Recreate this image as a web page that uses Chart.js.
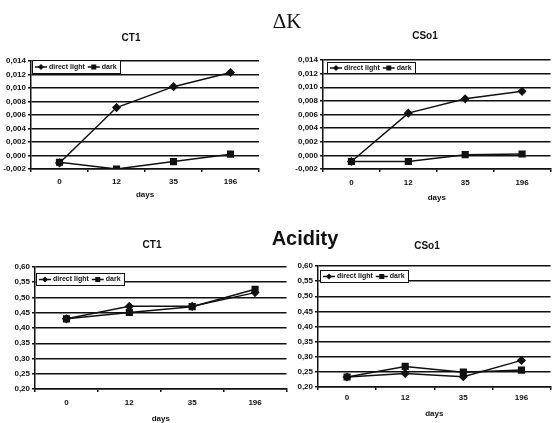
<!DOCTYPE html>
<html>
<head>
<meta charset="utf-8">
<script src="https://cdn.jsdelivr.net/npm/chart.js@4"></script>
<style>
html, body { margin: 0; padding: 0; background: #fff; overflow: hidden; }
body { width: 554px; height: 423px; position: relative; font-family: "Liberation Sans", Arial, sans-serif; }
canvas { position: absolute; }
.lbl { position: absolute; transform: translate(-50%, -50%); white-space: nowrap; line-height: 1; color: #111; z-index: 2; }
.sub { font-size: 10px; font-weight: bold; }
</style>
</head>
<body>
<div class="lbl" style="left:287px;top:21px;font-family:'Liberation Serif',serif;font-size:21px">ΔK</div>
<div class="lbl" style="left:305px;top:238px;font-size:20px;font-weight:bold">Acidity</div>
<div class="lbl sub" style="left:131px;top:38px">CT1</div>
<div class="lbl sub" style="left:425px;top:36px">CSo1</div>
<div class="lbl sub" style="left:152px;top:245px">CT1</div>
<div class="lbl sub" style="left:427px;top:246px">CSo1</div>

<canvas id="dkCT1" width="270" height="192" style="left:0;top:20px"></canvas>
<canvas id="dkCSo1" width="266" height="192" style="left:290px;top:20px"></canvas>
<canvas id="acCT1" width="292" height="200" style="left:0;top:225px"></canvas>
<canvas id="acCSo1" width="266" height="200" style="left:290px;top:225px"></canvas>

<script>
// values
const days = ["0", "12", "35", "196"];
const seriesNames = ["direct light", "dark"];

const dkCT1Light = [-0.0011, 0.0071, 0.0102, 0.0123];
const dkCT1Dark = [-0.0010, -0.0020, -0.0009, 0.0002];
const dkCSo1Light = [-0.0009, 0.0062, 0.0083, 0.0094];
const dkCSo1Dark = [-0.0009, -0.0009, 0.0001, 0.0002];

const acCT1Light = [0.430, 0.471, 0.471, 0.516];
const acCT1Dark = [0.430, 0.451, 0.470, 0.527];
const acCSo1Light = [0.233, 0.245, 0.234, 0.288];
const acCSo1Dark = [0.233, 0.268, 0.249, 0.256];

const dkTicks = [-0.002, 0.000, 0.002, 0.004, 0.006, 0.008, 0.010, 0.012, 0.014];
const acTicks = [0.20, 0.25, 0.30, 0.35, 0.40, 0.45, 0.50, 0.55, 0.60];

const INK = "#111";
const FONT = '"Liberation Sans", Arial, sans-serif';

// small boxed legend inside the plot, like the Excel original
const boxLegend = {
    id: "boxLegend",
    afterDraw(chart, args, opts) {
        const ctx = chart.ctx;
        const area = chart.chartArea;
        const x0 = Math.round(area.left + opts.dx);
        const y0 = Math.round(area.top + opts.dy);
        const h = opts.h;
        ctx.save();
        ctx.font = "bold 7px " + FONT;
        let w = 3;
        chart.data.datasets.forEach(ds => { w += 14 + ctx.measureText(ds.label).width + 3; });
        w = Math.round(w);
        ctx.fillStyle = "#fff";
        ctx.fillRect(x0, y0, w, h);
        ctx.strokeStyle = INK;
        ctx.lineWidth = 1;
        ctx.strokeRect(x0 + 0.5, y0 + 0.5, w, h);

        let x = x0 + 3;
        const cy = y0 + h / 2 + 0.5;
        chart.data.datasets.forEach(ds => {
            ctx.beginPath();
            ctx.moveTo(x, cy);
            ctx.lineTo(x + 12, cy);
            ctx.lineWidth = 1.5;
            ctx.stroke();
            ctx.fillStyle = INK;
            ctx.beginPath();
            if (ds.pointStyle === "rectRot") {
                ctx.moveTo(x + 6, cy - 3);
                ctx.lineTo(x + 9, cy);
                ctx.lineTo(x + 6, cy + 3);
                ctx.lineTo(x + 3, cy);
                ctx.closePath();
            } else {
                ctx.rect(x + 3.5, cy - 2.5, 5, 5);
            }
            ctx.fill();
            ctx.textBaseline = "middle";
            ctx.fillText(ds.label, x + 14, cy);
            x += 14 + ctx.measureText(ds.label).width + 3;
        });
        ctx.restore();
    }
};

function makeChart(id, light, dark, ticks, decimals, box) {
    new Chart(document.getElementById(id), {
        type: "line",
        data: {
            labels: days,
            datasets: [{
                label: seriesNames[0],
                data: light,
                borderColor: INK,
                backgroundColor: INK,
                borderWidth: 1.5,
                pointStyle: "rectRot",
                pointRadius: 3.5,
                tension: 0
            }, {
                label: seriesNames[1],
                data: dark,
                borderColor: INK,
                backgroundColor: INK,
                borderWidth: 1.5,
                pointStyle: "rect",
                pointRadius: 4,
                tension: 0
            }]
        },
        options: {
            responsive: false,
            animation: false,
            layout: { padding: { left: 0, right: box.padRight, top: 0, bottom: 0 } },
            plugins: {
                legend: { display: false },
                tooltip: { enabled: false },
                // empty title only reserves the space above the plot
                title: { display: true, text: "", font: { size: 10, lineHeight: 1 }, padding: { top: box.top - 10, bottom: 0 } },
                boxLegend: box.legend
            },
            scales: {
                x: {
                    offset: true,
                    grid: { display: true, drawOnChartArea: false, offset: true, tickLength: 3, color: INK, lineWidth: 1.5 },
                    border: { color: INK, width: 1.5 },
                    ticks: { color: INK, font: { family: FONT, size: 8, weight: "bold" }, padding: box.xPad, maxRotation: 0 },
                    title: { display: true, text: "days", color: INK, font: { family: FONT, size: 8, weight: "bold" }, padding: { top: 0, bottom: box.titlePad } },
                    afterFit: s => { s.height = box.xh; }
                },
                y: {
                    min: ticks[0],
                    max: ticks[ticks.length - 1],
                    afterBuildTicks: s => { s.ticks = ticks.map(v => ({ value: v })); },
                    grid: { color: INK, lineWidth: 1.5, tickLength: 3 },
                    border: { color: INK, width: 1.5 },
                    ticks: {
                        color: INK,
                        font: { family: FONT, size: 8, weight: "bold" },
                        padding: 2,
                        callback: v => v.toFixed(decimals).replace(".", ",")
                    },
                    afterFit: s => { s.width = box.yw; }
                }
            }
        },
        plugins: [boxLegend]
    });
}

makeChart("dkCT1", dkCT1Light, dkCT1Dark, dkTicks, 3,
    { yw: 31, top: 41, padRight: 11, xh: 43, xPad: 5, titlePad: 12, legend: { dx: 1, dy: -1, h: 13 } });
makeChart("dkCSo1", dkCSo1Light, dkCSo1Dark, dkTicks, 3,
    { yw: 33, top: 40, padRight: 0, xh: 43, xPad: 6, titlePad: 9, legend: { dx: 4, dy: 2, h: 11 } });
makeChart("acCT1", acCT1Light, acCT1Dark, acTicks, 2,
    { yw: 35, top: 42, padRight: 0, xh: 36, xPad: 6, titlePad: 1, legend: { dx: 1, dy: 6, h: 12 } });
makeChart("acCSo1", acCSo1Light, acCSo1Dark, acTicks, 2,
    { yw: 28, top: 41, padRight: 0, xh: 38, xPad: 3, titlePad: 6, legend: { dx: 2, dy: 4, h: 12 } });
</script>
</body>
</html>
